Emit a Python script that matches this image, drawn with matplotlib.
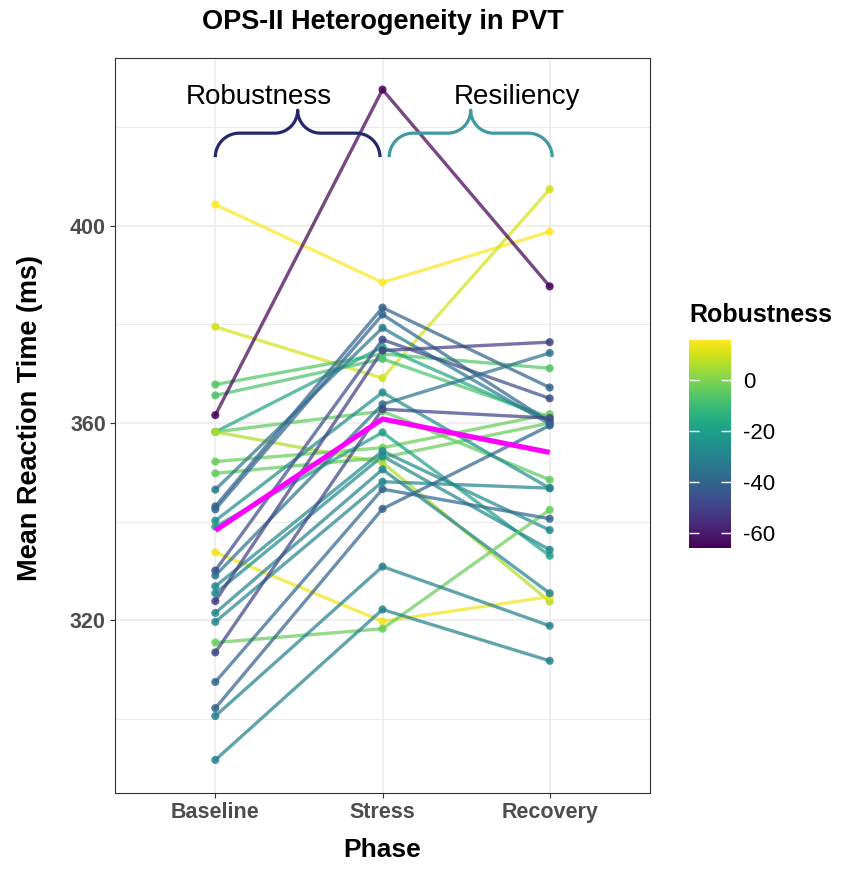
import numpy as np
import matplotlib
matplotlib.use("Agg")
import matplotlib.pyplot as plt
from matplotlib.colors import Normalize
from matplotlib import cm

plt.rcParams['font.family'] = ['Liberation Sans', 'DejaVu Sans']
plt.rcParams['axes.unicode_minus'] = False

# ---------------- data ----------------
phases = ["Baseline", "Stress", "Recovery"]
baseline = [404.3, 379.5, 367.8, 365.6, 361.6, 358.2, 358.2, 358.2, 352.2, 349.8,
            346.5, 343.1, 342.5, 340.2, 339.0, 333.8, 330.1, 329.1, 326.9, 325.5,
            323.9, 321.5, 319.7, 315.5, 313.5, 307.5, 302.2, 300.6, 291.7]
stress = [388.5, 369.1, 374.0, 373.0, 427.6, 375.4, 362.4, 352.0, 355.0, 353.0,
          379.3, 383.4, 382.0, 366.2, 358.1, 319.8, 376.9, 363.8, 354.3, 353.3,
          374.7, 350.6, 348.1, 318.3, 362.8, 346.6, 342.6, 330.9, 322.2]
recovery = [398.8, 407.4, 371.1, 361.2, 387.7, 360.5, 348.5, 323.8, 361.8, 360.0,
            359.8, 367.2, 360.2, 346.8, 333.1, 324.8, 365.0, 374.2, 338.3, 334.3,
            376.4, 325.5, 346.8, 342.4, 361.0, 340.6, 359.5, 318.9, 311.8]
cbar_ticks = [-60, -40, -20, 0]
y_major = [320, 360, 400]
y_minor = [300, 340, 380, 420]

title = "OPS-II Heterogeneity in PVT"
xlabel = "Phase"
ylabel = "Mean Reaction Time (ms)"
legend_title = "Robustness"

# ---------------- figure ----------------
W, H = 859, 871
fig = plt.figure(figsize=(W / 100, H / 100), dpi=100)
ax = fig.add_axes([115 / W, 1 - 793 / H, 535 / W, 735 / H])

B = np.array(baseline)
S = np.array(stress)
R = np.array(recovery)
vals = np.vstack([B, S, R]).T
rob = B - S
norm = Normalize(rob.min(), rob.max())
cmap = plt.get_cmap("viridis")
xpos = np.arange(1, len(phases) + 1)

for i in range(len(B)):
    ax.plot(xpos, vals[i], color=cmap(norm(rob[i])), lw=2.4, alpha=0.72,
            solid_capstyle="round", zorder=2)
for i in range(len(B)):
    ax.scatter(xpos, vals[i], color=cmap(norm(rob[i])), s=34, alpha=0.85,
               edgecolors="none", zorder=3)

mean_vals = vals.mean(axis=0)
ax.plot(xpos, mean_vals, color="#FF00FF", lw=3.7, zorder=4, solid_capstyle="butt")

ax.set_xlim(0.4, 3.6)
ax.set_ylim(285, 434)
ax.set_xticks(xpos)
ax.set_xticklabels(phases)
ax.set_yticks(y_major)
ax.set_yticks(y_minor, minor=True)
ax.grid(which="major", color="#EBEBEB", lw=1.1)
ax.grid(which="minor", color="#EBEBEB", lw=0.7)
ax.set_axisbelow(True)
ax.tick_params(axis="both", which="major", length=3.6, width=0.8, color="#333333",
               labelsize=15.5, labelcolor="#4D4D4D", pad=3)
ax.tick_params(which="minor", length=0)
for lbl in ax.get_xticklabels() + ax.get_yticklabels():
    lbl.set_fontweight("bold")
for sp in ax.spines.values():
    sp.set_color("#333333")
    sp.set_linewidth(0.8)

ax.set_xlabel(xlabel, fontsize=19, fontweight="bold", va="center")
ax.xaxis.set_label_coords(0.5, (793 - 850) / 735)
ax.set_ylabel(ylabel, fontsize=19.5, fontweight="bold", va="center")
ax.yaxis.set_label_coords((30 - 115) / 535, (793 - 418) / 735)
ax.set_title(title, fontsize=19.5, fontweight="bold", va="center",
             y=1 + (58 - 30) / 735)

# ---------------- colorbar ----------------
cax = fig.add_axes([689 / W, 1 - 548 / H, 42 / W, 208 / H])
sm = cm.ScalarMappable(norm=norm, cmap=cmap)
cb = fig.colorbar(sm, cax=cax)
cb.outline.set_visible(False)
cb.set_ticks(cbar_ticks)
cax.tick_params(left=True, right=True, direction="in", color="white", length=7,
                width=1, labelsize=16, labelcolor="black", pad=9)
fig.text(689 / W, 1 - 315 / H, legend_title, ha="left", va="center",
         fontsize=18, fontweight="bold")

# ---------------- braces ----------------
def brace(x0, x1, ybase, color):
    p0 = ax.transData.transform((x0, ybase))
    p1 = ax.transData.transform((x1, ybase))
    X0, Yb = p0
    X1 = p1[0]
    Xc = (X0 + X1) / 2
    r, r2 = 24, 23
    pts = []
    t = np.linspace(np.pi, np.pi / 2, 30)
    pts += list(zip(X0 + r + r * np.cos(t), Yb + r * np.sin(t)))
    t = np.linspace(-np.pi / 2, 0, 30)
    pts += list(zip(Xc - r2 + r2 * np.cos(t), Yb + r + r2 + r2 * np.sin(t)))
    t = np.linspace(np.pi, 1.5 * np.pi, 30)
    pts += list(zip(Xc + r2 + r2 * np.cos(t), Yb + r + r2 + r2 * np.sin(t)))
    t = np.linspace(np.pi / 2, 0, 30)
    pts += list(zip(X1 - r + r * np.cos(t), Yb + r * np.sin(t)))
    pts = ax.transData.inverted().transform(np.array(pts))
    ax.plot(pts[:, 0], pts[:, 1], color=color, lw=2.3, zorder=5,
            solid_capstyle="butt", clip_on=False)

brace(1.0, 1.985, 413.9, "#26276E")
brace(2.04, 3.015, 413.9, "#3F9AA2")
ax.text(1.26, 424.7, "Robustness", ha="center", va="baseline", fontsize=20, zorder=6)
ax.text(2.806, 424.7, "Resiliency", ha="center", va="baseline", fontsize=20, zorder=6)

fig.savefig("out.png", dpi=100)
